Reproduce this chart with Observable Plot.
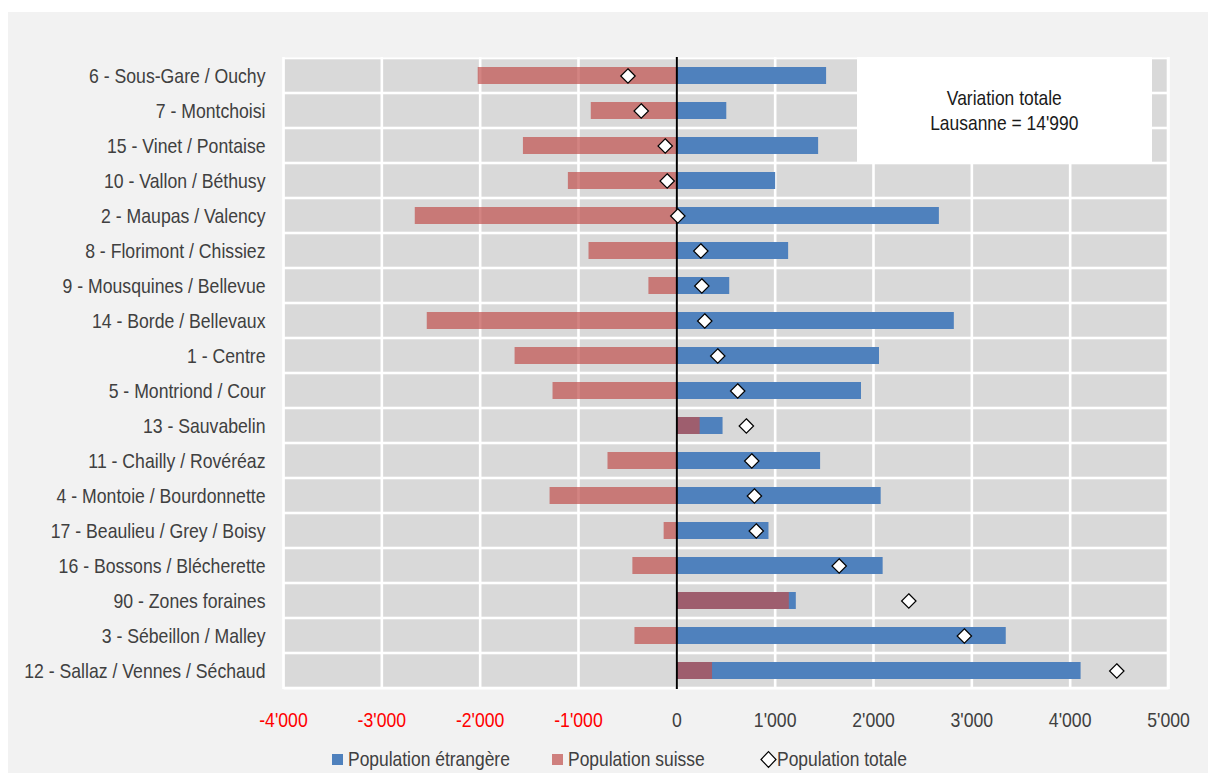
<!DOCTYPE html>
<html>
<head>
<meta charset="utf-8">
<script src="https://cdn.jsdelivr.net/npm/d3@7"></script>
<script src="https://cdn.jsdelivr.net/npm/@observablehq/plot@0.6"></script>
<style>
  html, body { margin: 0; padding: 0; background: #ffffff; }
  body { width: 1208px; height: 773px; position: relative; overflow: hidden;
         font-family: 'Liberation Sans', Arial, sans-serif; }
  #bg { position: absolute; left: 8px; top: 12px; width: 1200px; height: 761px; background: #f2f2f2; }
  #chart { position: absolute; left: 0; top: 0; }
  #note { position: absolute; left: 857px; top: 57px; width: 295px; height: 105px; background: #ffffff;
          display: flex; align-items: center; justify-content: center; text-align: center;
          font-size: 21px; line-height: 25px; color: #1a1a1a; }
  #note > div { transform: scaleX(0.83); transform-origin: center; white-space: nowrap; }
  .lg { position: absolute; top: 748px; height: 22px; line-height: 22px; font-size: 21px; color: #404040;
        white-space: nowrap; transform: scaleX(0.83); transform-origin: left center; }
  .sw { position: absolute; top: 754px; width: 11px; height: 11px; }
</style>
</head>
<body>
<div id="bg"></div>
<div id="chart"></div>
<div id="note"><div>Variation totale<br>Lausanne = 14'990</div></div>
<div class="sw" style="left:332px;background:#4f81bd"></div>
<div class="lg" style="left:348px">Population étrangère</div>
<div class="sw" style="left:552px;background:#c0504d;opacity:0.7"></div>
<div class="lg" style="left:568px">Population suisse</div>
<svg style="position:absolute;left:760px;top:750px" width="17" height="19" viewBox="-8.5 -9.5 17 19"><path d="M0,-7.8L7.5,0L0,7.8L-7.5,0Z" fill="#fff" stroke="#000" stroke-width="1.2"/></svg>
<div class="lg" style="left:777px">Population totale</div>
<script>
const quartiers = [
  "6 - Sous-Gare / Ouchy", "7 - Montchoisi", "15 - Vinet / Pontaise", "10 - Vallon / Béthusy",
  "2 - Maupas / Valency", "8 - Florimont / Chissiez", "9 - Mousquines / Bellevue", "14 - Borde / Bellevaux",
  "1 - Centre", "5 - Montriond / Cour", "13 - Sauvabelin", "11 - Chailly / Rovéréaz",
  "4 - Montoie / Bourdonnette", "17 - Beaulieu / Grey / Boisy", "16 - Bossons / Blécherette",
  "90 - Zones foraines", "3 - Sébeillon / Malley", "12 - Sallaz / Vennes / Séchaud"
];
const popEtrangere = [1523, 508, 1442, 1005, 2670, 1137, 538, 2822, 2061, 1878, 470, 1462, 2078, 937, 2098, 1215, 3350, 4111];
const popSuisse = [-2020, -870, -1560, -1103, -2660, -893, -284, -2538, -1645, -1259, 237, -700, -1289, -129, -447, 1144, -426, 363];
const popTotale = [-497, -362, -118, -98, 10, 244, 254, 284, 416, 619, 707, 762, 789, 808, 1651, 2359, 2924, 4474];
const xTicks = [-4000, -3000, -2000, -1000, 0, 1000, 2000, 3000, 4000, 5000];

const rows = quartiers.map((q, i) => ({q, etr: popEtrangere[i], sui: popSuisse[i], tot: popTotale[i]}));
const fmt = d3.formatLocale({decimal: ".", thousands: "'", grouping: [3], currency: ["", ""], minus: "-"}).format(",d");

const chart = Plot.plot({
  width: 1208,
  height: 745,
  marginLeft: 283,
  marginRight: 40,
  marginTop: 57,
  marginBottom: 56,
  style: {
    fontFamily: "'Liberation Sans', Arial, sans-serif",
    fontSize: "21px",
    color: "#404040",
    background: "transparent",
    overflow: "visible"
  },
  x: {domain: [xTicks[0], xTicks[xTicks.length - 1]], axis: null},
  y: {domain: quartiers, padding: 0, tickSize: 0, tickPadding: 18, label: null},
  marks: [
    Plot.frame({fill: "#ffffff", stroke: null}),
    Plot.barX(rows, {y: "q", x1: xTicks[0], x2: xTicks[xTicks.length - 1], fill: "#d9d9d9",
      insetTop: 1.3, insetBottom: 1.3, insetLeft: 1.3, insetRight: 1.3}),
    Plot.ruleX(xTicks, {stroke: "#ffffff", strokeWidth: 2.6}),
    Plot.barX(rows, {y: "q", x: "etr", fill: "#4f81bd", insetTop: 9, insetBottom: 9}),
    Plot.barX(rows, {y: "q", x: "sui", fill: "#c0504d", fillOpacity: 0.7, insetTop: 9, insetBottom: 9}),
    Plot.ruleX([0], {stroke: "#000000", strokeWidth: 2}),
    Plot.dot(rows, {y: "q", x: "tot", symbol: "diamond2", r: 6.5, fill: "#ffffff", stroke: "#000000", strokeWidth: 1.2}),
    Plot.text(xTicks.filter(d => d < 0), {x: d => d, text: d => fmt(d), frameAnchor: "bottom", dy: 37, fill: "#ff0000"}),
    Plot.text(xTicks.filter(d => d >= 0), {x: d => d, text: d => fmt(d), frameAnchor: "bottom", dy: 37, fill: "#404040"})
  ]
});
document.getElementById("chart").appendChild(chart);
// narrow the glyphs (Arial Narrow look) since no condensed face is installed
chart.querySelectorAll("text").forEach(t => {
  const w = t.getComputedTextLength();
  if (w > 0) {
    t.setAttribute("textLength", (w * 0.84).toFixed(2));
    t.setAttribute("lengthAdjust", "spacingAndGlyphs");
  }
});
</script>
</body>
</html>
